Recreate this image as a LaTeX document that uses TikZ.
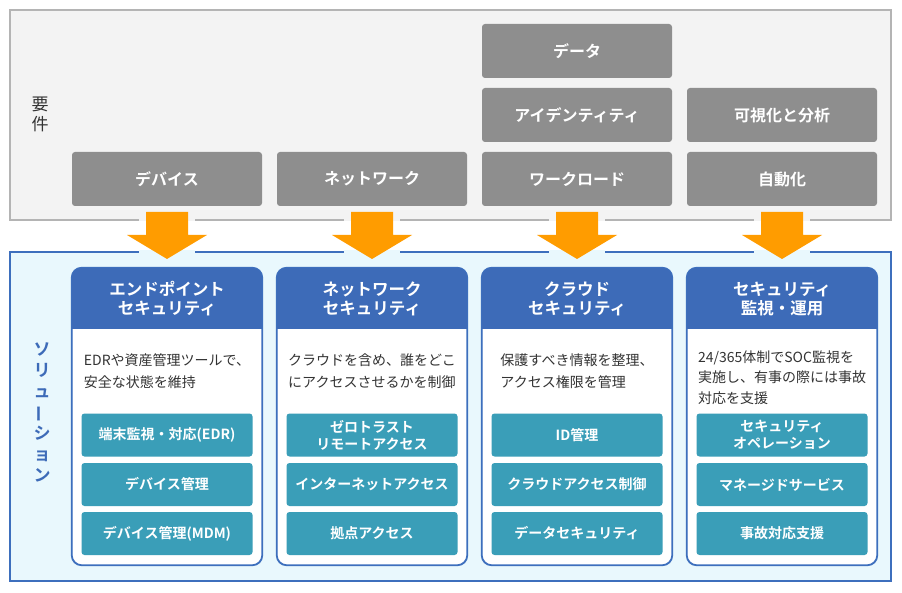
\documentclass[tikz,border=0pt]{standalone}
\usepackage{fontspec}
\usepackage{graphicx}
\setmainfont{Noto Sans CJK JP}[BoldFont={Noto Sans CJK JP Bold}]
\definecolor{framegray}{HTML}{F3F3F3}
\definecolor{framegrayline}{HTML}{B4B4B4}
\definecolor{reqgray}{HTML}{8E8E8E}
\definecolor{solfill}{HTML}{E9F8FD}
\definecolor{solline}{HTML}{3D6FBD}
\definecolor{hdrblue}{HTML}{3D6BB8}
\definecolor{tealbtn}{HTML}{3A9EB8}
\definecolor{arroworange}{HTML}{FF9C00}
\definecolor{txt}{HTML}{333333}
\tikzset{
  req/.style={fill=reqgray, rounded corners=3pt, text=white,
    font=\bfseries\fontsize{16}{19}\selectfont,
    minimum width=190pt, minimum height=54pt, inner sep=0pt},
  cardbox/.style={fill=white, draw=solline, line width=1.1pt, rounded corners=10pt,
    minimum width=190pt, minimum height=297pt, inner sep=0pt},
  btn/.style={fill=tealbtn, rounded corners=3pt, text=white,
    font=\bfseries\fontsize{14}{17}\selectfont, align=center,
    minimum width=171pt, minimum height=43pt, inner sep=0pt},
  hdrtext/.style={text=white, font=\bfseries\fontsize{16.5}{19}\selectfont, align=center},
  desc/.style={text=txt, font=\fontsize{14}{22}\selectfont, align=left},
  blockarrow/.style={fill=arroworange},
}
\newcommand{\cardheader}[1]{%
  \begin{scope}
    \clip[rounded corners=10pt] (#1.north west) rectangle (#1.south east);
    \fill[hdrblue] (#1.north west) rectangle ([yshift=-62pt]#1.north east);
  \end{scope}
  \draw[solline, line width=1.1pt, rounded corners=10pt] (#1.north west) rectangle (#1.south east);
}
\newcommand{\orangearrow}[2]{% #1 = x center, #2 = name
  \coordinate (#2) at (#1,212);
  \fill[solfill] ([xshift=-28pt]#2 |- 0,250.5) rectangle ([xshift=28pt]#2 |- 0,253.5);
  \fill[framegray] ([xshift=-28pt]#2 |- 0,218.5) rectangle ([xshift=28pt]#2 |- 0,221.5);
  \fill[blockarrow] ([xshift=-21pt]#2) -- ([xshift=21pt]#2) -- ([xshift=21pt,yshift=-23pt]#2)
    -- ([xshift=40pt,yshift=-23pt]#2) -- ([yshift=-47pt]#2) -- ([xshift=-40pt,yshift=-23pt]#2)
    -- ([xshift=-21pt,yshift=-23pt]#2) -- cycle;
}
\begin{document}
\begin{tikzpicture}[x=1pt,y=-1pt]
\useasboundingbox (0,0) rectangle (902,593);
\fill[white] (0,0) rectangle (902,593);

% requirement frame
\draw[fill=framegray, draw=framegrayline, line width=2pt] (10,10) rectangle (891,220);
\node[text=txt, font=\fontsize{17}{20}\selectfont, align=center] (reqlabel) at (40,114) {要\\件};

% solution frame
\draw[fill=solfill, draw=solline, line width=2pt] (10,252) rectangle (891,581);
\node[text=hdrblue, font=\bfseries\fontsize{17}{21}\selectfont, align=center] (sollabel) at (42,412)
  {ソ\\リ\\ュ\\\rotatebox[origin=c]{90}{ー}\\シ\\ョ\\ン};

% requirement boxes
\node[req] (r1) at (167,179) {デバイス};
\node[req] (r2) at (372,179) {ネットワーク};
\node[req] (r3a) at (577,51) {データ};
\node[req] (r3b) at (577,115) {アイデンティティ};
\node[req] (r3c) at (577,179) {ワークロード};
\node[req] (r4a) at (782,115) {可視化と分析};
\node[req] (r4b) at (782,179) {自動化};

% arrows
\orangearrow{167}{a1}
\orangearrow{372}{a2}
\orangearrow{577}{a3}
\orangearrow{782}{a4}

% cards
\node[cardbox] (c1) at (167,416.5) {};
\node[cardbox] (c2) at (372,416.5) {};
\node[cardbox] (c3) at (577,416.5) {};
\node[cardbox] (c4) at (782,416.5) {};
\cardheader{c1}
\cardheader{c2}
\cardheader{c3}
\cardheader{c4}

\node[hdrtext] (h1) at (167,299) {エンドポイント\\セキュリティ};
\node[hdrtext] (h2) at (372,299) {ネットワーク\\セキュリティ};
\node[hdrtext] (h3) at (577,299) {クラウド\\セキュリティ};
\node[hdrtext] (h4) at (782,299) {セキュリティ\\監視・運用};

\node[desc] (d1) at (167,371) {EDRや資産管理ツールで、\\安全な状態を維持};
\node[desc] (d2) at (372,371) {クラウドを含め、誰をどこ\\にアクセスさせるかを制御};
\node[desc] (d3) at (577,371) {保護すべき情報を整理、\\アクセス権限を管理};
\node[desc, font=\fontsize{14}{20.5}\selectfont] (d4) at (782,377.5) {24/365体制でSOC監視を\\実施し、有事の際には事故\\対応を支援};

% buttons
\node[btn] (b11) at (167,435) {端末監視・対応(EDR)};
\node[btn] (b12) at (167,484.5) {デバイス管理};
\node[btn] (b13) at (167,533.5) {デバイス管理(MDM)};
\node[btn] (b21) at (372,435) {ゼロトラスト\\リモートアクセス};
\node[btn] (b22) at (372,484.5) {インターネットアクセス};
\node[btn] (b23) at (372,533.5) {拠点アクセス};
\node[btn] (b31) at (577,435) {ID管理};
\node[btn] (b32) at (577,484.5) {クラウドアクセス制御};
\node[btn] (b33) at (577,533.5) {データセキュリティ};
\node[btn] (b41) at (782,435) {セキュリティ\\オペレーション};
\node[btn] (b42) at (782,484.5) {マネージドサービス};
\node[btn] (b43) at (782,533.5) {事故対応支援};
\end{tikzpicture}
\end{document}
